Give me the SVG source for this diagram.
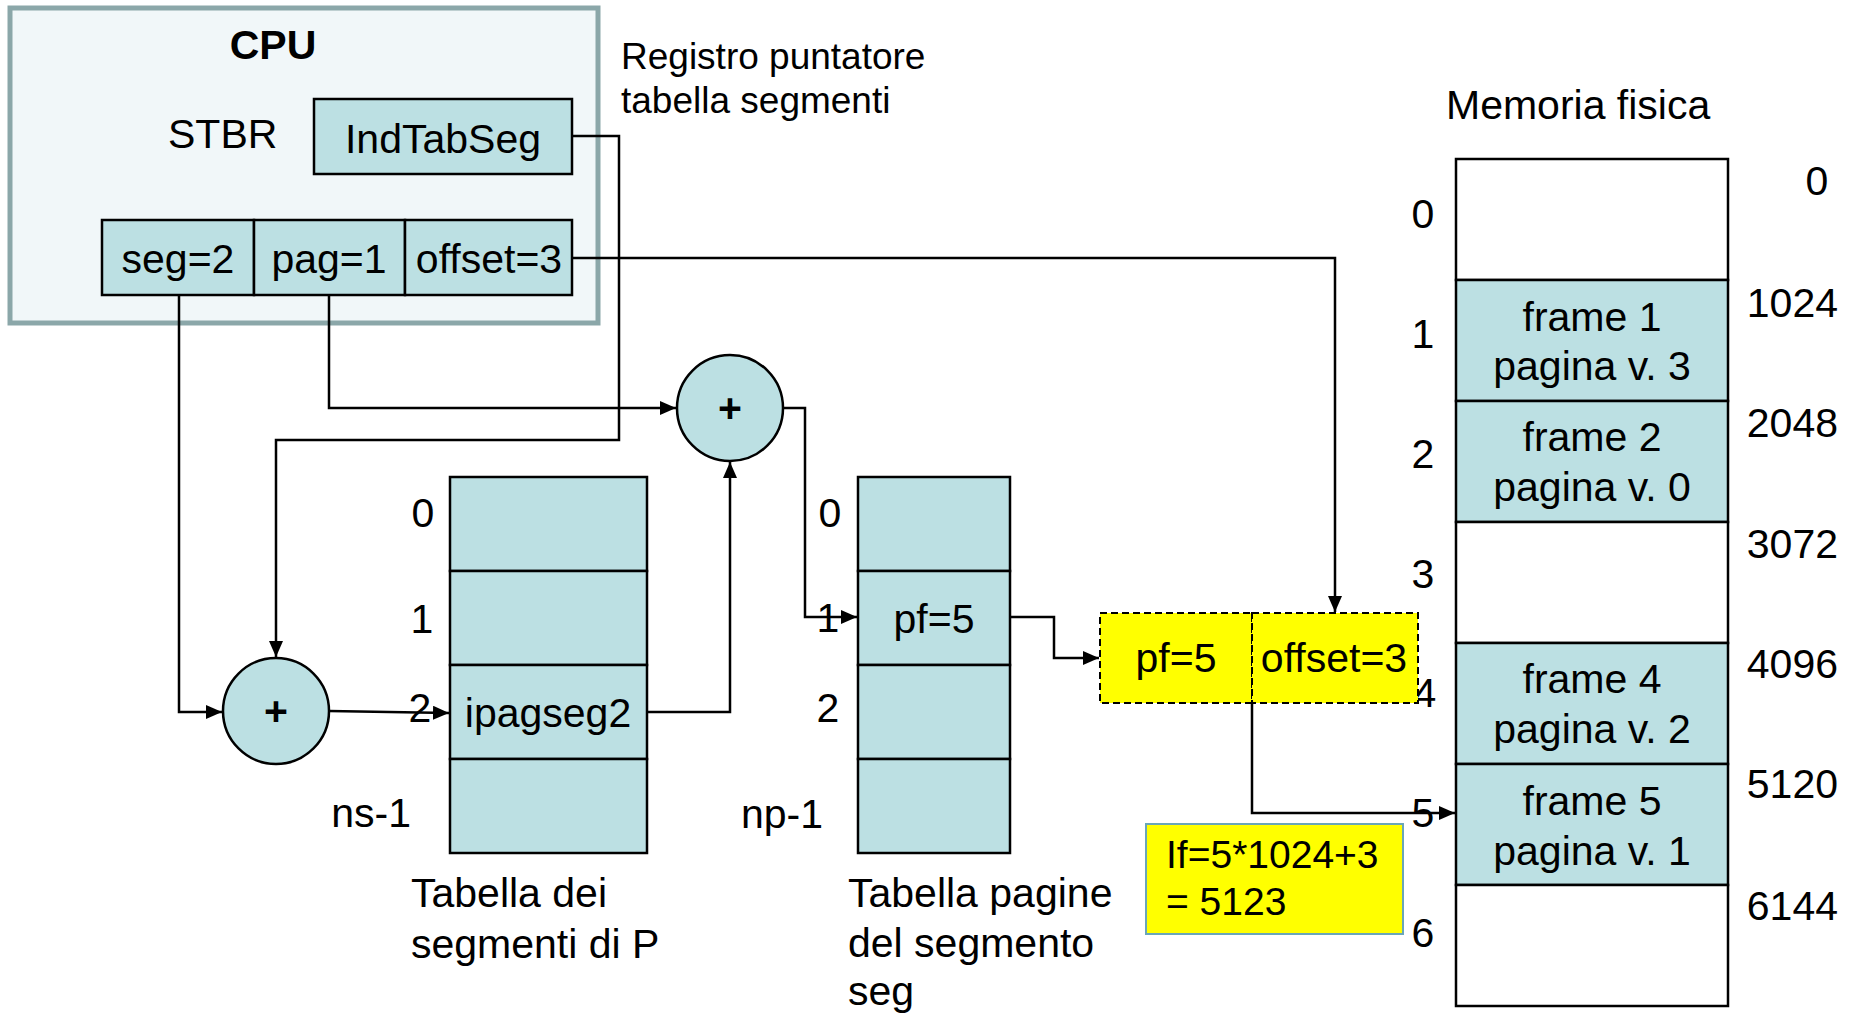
<svg xmlns="http://www.w3.org/2000/svg" width="1854" height="1018" viewBox="0 0 1854 1018">
<defs>
<style>
text{font-family:"Liberation Sans",Arial,sans-serif;font-size:41px;fill:#000}
text.small{font-size:37px}
text.formula{font-size:39px}
.c{text-anchor:middle}
.e{text-anchor:end}
.cell{fill:#bce0e3;stroke:#000;stroke-width:2.5}
.white{fill:#fff;stroke:#000;stroke-width:2.5}
.conn{fill:none;stroke:#000;stroke-width:2.5}
.dash{fill:#ffff00;stroke:#000;stroke-width:2;stroke-dasharray:7,4}
</style>
<marker id="arr" markerUnits="userSpaceOnUse" viewBox="0 0 16 14" markerWidth="16" markerHeight="14" refX="16" refY="7" orient="auto">
<path d="M0,0 L16,7 L0,14 z" fill="#000"/>
</marker>
</defs>
<rect width="1854" height="1018" fill="#fff"/>

<g id="cpu">
<rect x="10" y="8" width="588" height="315" fill="#f1f7f9" stroke="#8ba7a9" stroke-width="5"/>
<text x="273" y="59" class="c" font-weight="bold">CPU</text>
<text x="168" y="148">STBR</text>
</g>

<g id="stbr">
<rect x="314" y="99" width="258" height="75" class="cell"/>
<text x="443" y="153" class="c">IndTabSeg</text>
</g>

<g id="address">
<rect x="102" y="220" width="152" height="75" class="cell"/>
<rect x="254" y="220" width="151" height="75" class="cell"/>
<rect x="405" y="220" width="167" height="75" class="cell"/>
<text x="178" y="273" class="c">seg=2</text>
<text x="329" y="273" class="c">pag=1</text>
<text x="489" y="273" class="c">offset=3</text>
</g>

<g id="registro-label">
<text x="621" y="69" class="small">Registro puntatore</text>
<text x="621" y="113" class="small">tabella segmenti</text>
</g>

<g id="memory-left-labels">
<text x="1423" y="228" class="c">0</text>
<text x="1423" y="348" class="c">1</text>
<text x="1423" y="468" class="c">2</text>
<text x="1423" y="588" class="c">3</text>
<text x="1425" y="707" class="c">4</text>
<text x="1423" y="827" class="c">5</text>
<text x="1423" y="947" class="c">6</text>
</g>

<g id="segment-table">
<rect x="450" y="477" width="197" height="94" class="cell"/>
<rect x="450" y="571" width="197" height="94" class="cell"/>
<rect x="450" y="665" width="197" height="94" class="cell"/>
<rect x="450" y="759" width="197" height="94" class="cell"/>
<text x="548" y="727" class="c">ipagseg2</text>
<text x="423" y="527" class="c">0</text>
<text x="422" y="633" class="c">1</text>
<text x="420" y="722" class="c">2</text>
<text x="411" y="827" class="e">ns-1</text>
<text x="411" y="907">Tabella dei</text>
<text x="411" y="958">segmenti di P</text>
</g>

<g id="page-table">
<rect x="858" y="477" width="152" height="94" class="cell"/>
<rect x="858" y="571" width="152" height="94" class="cell"/>
<rect x="858" y="665" width="152" height="94" class="cell"/>
<rect x="858" y="759" width="152" height="94" class="cell"/>
<text x="934" y="633" class="c">pf=5</text>
<text x="830" y="527" class="c">0</text>
<text x="828" y="632" class="c">1</text>
<text x="828" y="722" class="c">2</text>
<text x="823" y="828" class="e">np-1</text>
<text x="848" y="907">Tabella pagine</text>
<text x="848" y="957">del segmento</text>
<text x="848" y="1005">seg</text>
</g>

<g id="adder1">
<circle cx="276" cy="711" r="53" class="cell"/>
<text x="276" y="725" class="c" font-weight="bold">+</text>
</g>

<g id="adder2">
<circle cx="730" cy="408" r="53" class="cell"/>
<text x="730" y="422" class="c" font-weight="bold">+</text>
</g>

<g id="memory">
<text x="1446" y="119">Memoria fisica</text>
<rect x="1456" y="159" width="272" height="121" class="white"/>
<rect x="1456" y="280" width="272" height="121" class="cell"/>
<rect x="1456" y="401" width="272" height="121" class="cell"/>
<rect x="1456" y="522" width="272" height="121" class="white"/>
<rect x="1456" y="643" width="272" height="121" class="cell"/>
<rect x="1456" y="764" width="272" height="121" class="cell"/>
<rect x="1456" y="885" width="272" height="121" class="white"/>
<text x="1592" y="331" class="c">frame 1</text>
<text x="1592" y="380" class="c">pagina v. 3</text>
<text x="1592" y="451" class="c">frame 2</text>
<text x="1592" y="501" class="c">pagina v. 0</text>
<text x="1592" y="693" class="c">frame 4</text>
<text x="1592" y="743" class="c">pagina v. 2</text>
<text x="1592" y="815" class="c">frame 5</text>
<text x="1592" y="865" class="c">pagina v. 1</text>
<text x="1817" y="195" class="c">0</text>
<text x="1838" y="317" class="e">1024</text>
<text x="1838" y="437" class="e">2048</text>
<text x="1838" y="558" class="e">3072</text>
<text x="1838" y="678" class="e">4096</text>
<text x="1838" y="798" class="e">5120</text>
<text x="1838" y="920" class="e">6144</text>
</g>

<g id="physical-address">
<rect x="1100" y="613" width="152" height="90" class="dash"/>
<rect x="1252" y="613" width="166" height="90" class="dash"/>
<text x="1176" y="672" class="c">pf=5</text>
<text x="1334" y="672" class="c">offset=3</text>
</g>

<g id="formula">
<rect x="1146" y="824" width="257" height="110" fill="#ffff00" stroke="#6aa6b8" stroke-width="2"/>
<text x="1166" y="868" class="formula">If=5*1024+3</text>
<text x="1166" y="915" class="formula">= 5123</text>
</g>

<g id="connectors">
<polyline class="conn" points="572,136 619,136 619,440 276,440 276,657" marker-end="url(#arr)"/>
<polyline class="conn" points="572,258 1335,258 1335,612" marker-end="url(#arr)"/>
<polyline class="conn" points="179,295 179,712 222,712" marker-end="url(#arr)"/>
<polyline class="conn" points="329,295 329,408 676,408" marker-end="url(#arr)"/>
<polyline class="conn" points="329,711 449,713" marker-end="url(#arr)"/>
<polyline class="conn" points="647,712 730,712 730,462" marker-end="url(#arr)"/>
<polyline class="conn" points="783,408 805,408 805,617 857,617" marker-end="url(#arr)"/>
<polyline class="conn" points="1010,617 1054,617 1054,658 1099,658" marker-end="url(#arr)"/>
<polyline class="conn" points="1252,703 1252,813 1455,813" marker-end="url(#arr)"/>
</g>
</svg>
